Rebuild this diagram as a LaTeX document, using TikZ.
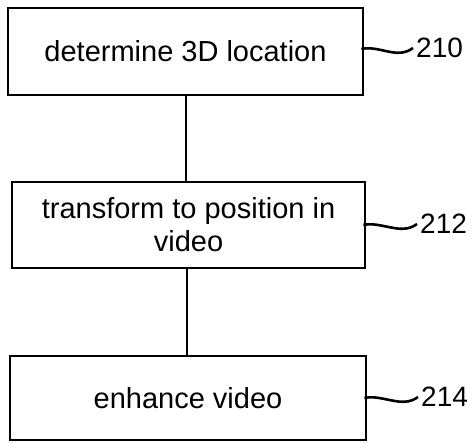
\documentclass[tikz,border=0pt]{standalone}
\usepackage{fontspec}
\setmainfont{Liberation Sans}
\usetikzlibrary{calc}
\begin{document}
\begin{tikzpicture}[x=1pt,y=1pt,
  stepbox/.style={draw=black,line width=2.8pt,rectangle,align=center,inner sep=0pt,font=\fontsize{29}{33}\selectfont},
  reflabel/.style={anchor=west,inner sep=0pt,font=\fontsize{28}{32}\selectfont},
  link/.style={line width=2.6pt},
  leader/.style={line width=2.6pt}]
\useasboundingbox (0,0) rectangle (474,-442);
\node[stepbox,minimum width=355,minimum height=87] (b1) at (185.5,-51.5) {determine 3D location};
\node[stepbox,minimum width=353,minimum height=86] (b2) at (188.5,-225) {transform to position in\\video};
\node[stepbox,minimum width=356,minimum height=84] (b3) at (188,-398) {enhance video};
\node[reflabel] (l1) at (416,-48) {210};
\node[reflabel] (l2) at (420,-224) {212};
\node[reflabel] (l3) at (421,-397) {214};
\coordinate (c1) at (186,-95);
\coordinate (c2) at (186,-183);
\coordinate (c3) at (187,-268);
\coordinate (c4) at (187,-356);
\draw[link] (c1) -- (c2);
\draw[link] (c3) -- (c4);
\foreach \b/\l in {b1/l1,b2/l2,b3/l3}{
  \draw[leader] ($(\b.east |- \l.west)+(-3,-1)$) .. controls +(18,4) and +(-16,-12) .. ($(\l.west)+(-3,0)$);
}
\end{tikzpicture}
\end{document}
